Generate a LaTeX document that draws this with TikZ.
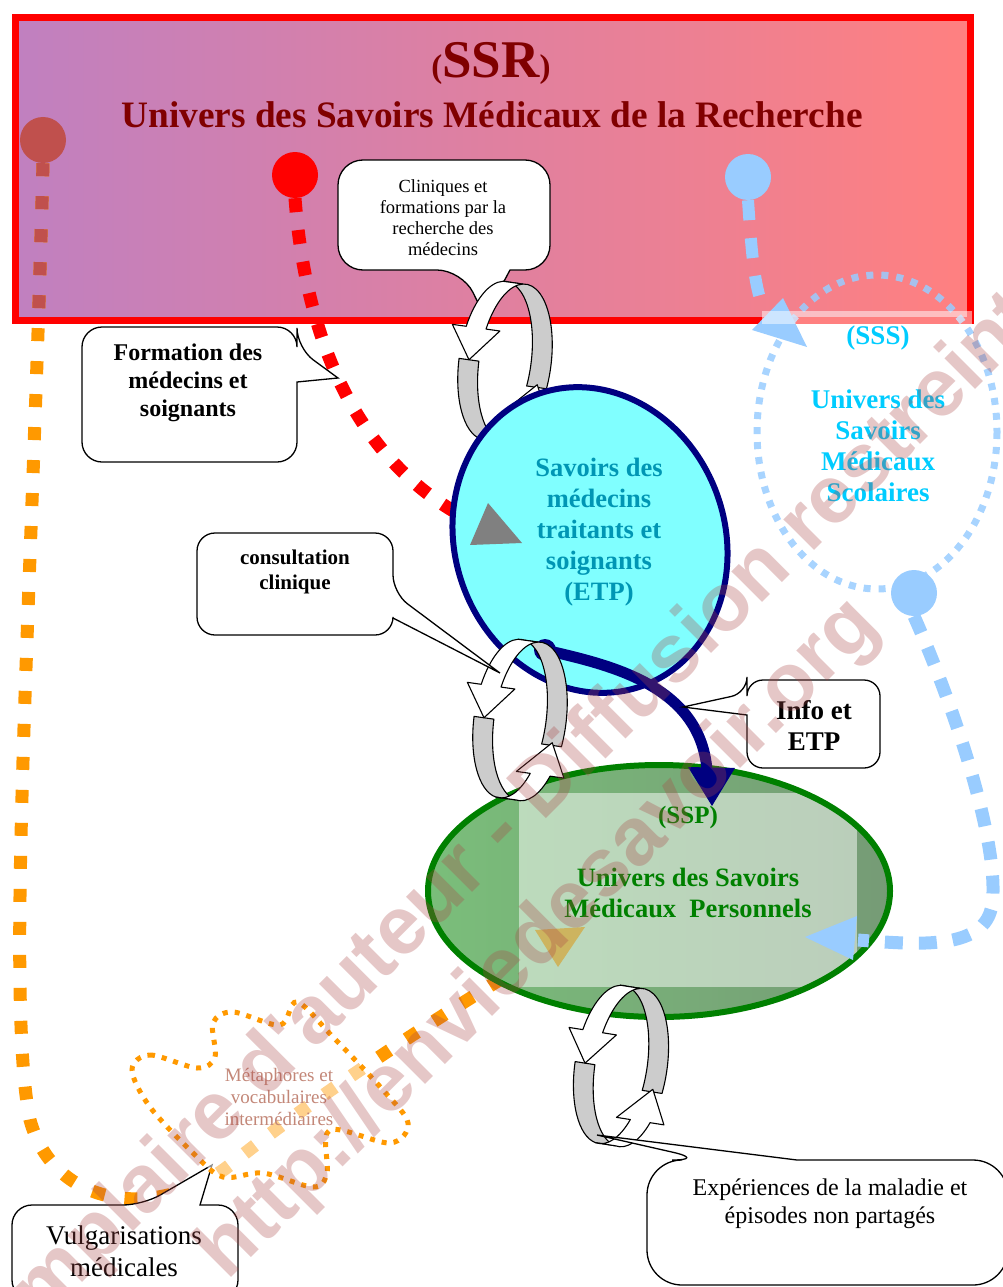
\documentclass[tikz,border=0pt]{standalone}
\usepackage{fontspec}
\setmainfont{Liberation Serif}
\newfontfamily\wmfont{Liberation Sans}

\definecolor{ssrleft}{RGB}{192,128,192}
\definecolor{ssrright}{RGB}{255,128,128}
\definecolor{ssrtext}{RGB}{128,0,0}
\definecolor{skyblue}{RGB}{153,204,255}
\definecolor{ssstext}{RGB}{0,204,255}
\definecolor{etpfill}{RGB}{128,255,255}
\definecolor{etptext}{RGB}{0,150,180}
\definecolor{navy}{RGB}{0,0,128}
\definecolor{sspgreen}{RGB}{0,128,0}
\definecolor{sspleft}{RGB}{122,190,122}
\definecolor{sspright}{RGB}{118,155,118}
\definecolor{vulgorange}{RGB}{255,153,0}
\definecolor{vulgbrown}{RGB}{192,80,77}
\definecolor{ringgrey}{RGB}{204,204,204}
\definecolor{metatext}{RGB}{195,135,120}
\definecolor{olivehead}{RGB}{205,180,95}
\definecolor{wmark}{RGB}{170,70,70}

\newcommand\fsize[2]{\fontsize{#1}{#2}\selectfont}

% ring of two curved arrows, centred at (#1,#2), tilted by #3
\newcommand\ringarrows[3]{%
  \begin{scope}[shift={(#1,#2)}, rotate=#3, line width=1.1pt, line join=round]
    \filldraw[fill=ringgrey] ({-10+36*cos(178)},{80*sin(178)}) arc[start angle=178, end angle=95, x radius=36, y radius=80]
      -- ++(20,0) arc[start angle=95, end angle=178, x radius=36, y radius=80] -- cycle;
    \filldraw[fill=ringgrey] ({-10+36*cos(15)},{80*sin(15)}) arc[start angle=15, end angle=-95, x radius=36, y radius=80]
      -- ++(20,0) arc[start angle=-95, end angle=15, x radius=36, y radius=80] -- cycle;
    \filldraw[fill=white] ({-10+36*cos(-95)},{80*sin(-95)}) arc[start angle=-95, end angle=-158, x radius=36, y radius=80]
      -- ++(-14,0) -- ({36*cos(-182)},{80*sin(-182)}) -- ({24+36*cos(-158)},{80*sin(-158)}) -- ++(-14,0)
      arc[start angle=-158, end angle=-95, x radius=36, y radius=80] -- cycle;
    \filldraw[fill=white] ({-10+36*cos(95)},{80*sin(95)}) arc[start angle=95, end angle=40, x radius=36, y radius=80]
      -- ++(-14,0) -- ({36*cos(13)},{80*sin(13)}) -- ({24+36*cos(40)},{80*sin(40)}) -- ++(-14,0)
      arc[start angle=40, end angle=95, x radius=36, y radius=80] -- cycle;
  \end{scope}}

\begin{document}
\begin{tikzpicture}[
    x=1pt, y=-1pt,
    bubble/.style = {draw, fill=white, line width=1.3pt, rounded corners=20pt},
    dot/.style = {circle, inner sep=0pt, minimum size=46pt},
    txt/.style = {inner sep=0pt, align=center}
  ]
  \useasboundingbox (0,0) rectangle (1003,1287);
  \clip (0,0) rectangle (1003,1287);

  % SSR
  \path[left color=ssrleft, right color=ssrright] (15,18) rectangle (970,320);
  \draw[red, line width=7pt] (15,18) rectangle (970,320);
  \node[txt, text=ssrtext, font=\bfseries] (ssrtag) at (491,63)
    {\fsize{33}{36}(\fsize{53}{56}SSR\fsize{33}{36})};
  \node[txt, text=ssrtext, font=\bfseries\fsize{37.3}{40}] (ssrtitle) at (492,115)
    {Univers des Savoirs Médicaux de la Recherche};

  \node[dot, fill=vulgbrown] (vulgdot) at (43,140) {};
  \node[dot, fill=red] (formdot) at (295,175) {};
  \node[dot, fill=skyblue] (sssdot) at (748,177) {};
  \node[dot, fill=skyblue] (sspdot) at (914,593) {};

  % vulgarisation path
  \draw[vulgorange, line width=13pt, dash pattern=on 13pt off 20pt]
    (vulgdot.south) .. controls (32,600) and (5,1000) .. (30,1120)
    .. controls (55,1210) and (160,1220) .. (230,1165)
    .. controls (330,1085) and (450,1010) .. (545,952);
  \begin{scope}
    \clip (15,18) rectangle (970,320);
    \draw[vulgbrown, line width=13pt, dash pattern=on 13pt off 20pt]
      (vulgdot.south) .. controls (32,600) and (5,1000) .. (30,1120);
  \end{scope}

  % formation path
  \draw[red, line width=13pt, dash pattern=on 14pt off 18pt]
    (formdot.south) .. controls (305,330) and (350,450) .. (455,512);

  % SSS
  \draw[skyblue, line width=12pt, dash pattern=on 20pt off 18pt]
    (sssdot.south) .. controls (752,260) and (755,290) .. (765,312);
  \fill[skyblue] (752,330) -- (783,298) -- (807,347) -- cycle;
  \draw[skyblue, opacity=0.85, line width=7pt, dash pattern=on 7pt off 8pt]
    (877,432) ellipse [x radius=120, y radius=157];
  \fill[white, opacity=0.5] (762,311) rectangle (972,324);
  \node[txt, text=ssstext, font=\bfseries\fsize{27}{31}] (ssstag) at (878,338) {(SSS)};
  \node[txt, text=ssstext, font=\bfseries\fsize{27}{31}] (ssstitle) at (878,446)
    {Univers des\\Savoirs\\Médicaux\\Scolaires};

  % cliniques
  \draw[bubble, rounded corners=25pt] (510,270) -- (550,270) -- (550,160) -- (338,160)
    -- (338,270) -- (462,270) [sharp corners] -- (485,317) -- cycle;
  \node[txt, font=\fsize{18.5}{21}] (clintext) at (443,218)
    {Cliniques et\\formations par la\\recherche des\\médecins};
  \ringarrows{505}{362}{-8}

  % SSP
  \path[left color=sspleft, right color=sspright] (659,891) ellipse [x radius=231, y radius=126];
  \fill[white, opacity=0.5] (519,793) rectangle (857,987);
  \draw[sspgreen, line width=6pt] (659,891) ellipse [x radius=231, y radius=126];
  \node[txt, text=sspgreen, font=\bfseries\fsize{25}{28}] (ssptag) at (688,817) {(SSP)};
  \node[txt, text=sspgreen, font=\bfseries\fsize{26.5}{31}] (ssptitle) at (688,893)
    {Univers des Savoirs\\Médicaux\ \ Personnels};
  \fill[olivehead] (535,930) -- (585,927) -- (558,967) -- cycle;

  \draw[skyblue, line width=13pt, dash pattern=on 18pt off 16pt]
    (sspdot.south) .. controls (960,720) and (1000,850) .. (992,905)
    .. controls (985,950) and (920,945) .. (858,940);
  \fill[skyblue] (857,916) -- (853,960) -- (805,937) -- cycle;

  % ETP
  \filldraw[fill=etpfill, draw=navy, line width=6pt, rotate around={20:(590,540)}]
    (590,540) ellipse [x radius=135, y radius=155];
  \node[txt, text=etptext, font=\bfseries\fsize{26.5}{31}] (etptext) at (599,532)
    {Savoirs des\\médecins\\traitants et\\soignants\\(ETP)};
  \fill[gray] (488,503) -- (522,543) -- (470,545) -- cycle;

  \draw[navy, line width=11pt] (545,650) .. controls (610,665) and (700,685) .. (707,770);
  \fill[navy] (545,650) circle[radius=11];
  \fill[navy] (688,767) -- (735,768) -- (712,806) -- cycle;

  \ringarrows{520}{720}{-8}
  \ringarrows{621}{1066}{-9}

  % callouts
  \draw[bubble] (297,382) -- (297,462) -- (82,462) -- (82,327) -- (297,327)
    -- (297,348) [sharp corners] -- (338,378) -- cycle;
  \node[txt, font=\bfseries\fsize{24}{28}] (formtext) at (188,383)
    {Formation des\\médecins et\\soignants};

  \draw[bubble, rounded corners=18pt] (393,618) -- (393,635) -- (197,635) -- (197,533) -- (393,533)
    -- (393,593) [sharp corners] -- (500,673) -- cycle;
  \node[txt, font=\bfseries\fsize{21}{25}] (constext) at (295,572) {consultation\\clinique};

  \draw[bubble, rounded corners=16pt] (747,715) -- (747,768) -- (880,768) -- (880,680) -- (747,680)
    -- (747,693) [sharp corners] -- (683,707) -- cycle;
  \node[txt, font=\bfseries\fsize{27}{31}] (infotext) at (814,725) {Info et\\ETP};

  \draw[bubble, rounded corners=35pt] (797,1160) -- (1008,1160) -- (1008,1285) -- (647,1285)
    -- (647,1160) -- (707,1160) [sharp corners] -- (597,1135) -- cycle;
  \node[txt, font=\fsize{24}{28}] (exptext) at (830,1204)
    {Expériences de la maladie et\\épisodes non partagés};

  \draw[bubble] (200,1205) -- (238,1205) -- (238,1300) -- (12,1300) -- (12,1205)
    -- (143,1205) [sharp corners] -- (212,1165) -- cycle;
  \node[txt, font=\fsize{27}{32}] (vulgtext) at (124,1251) {Vulgarisations\\médicales};

  % metaphores
  \filldraw[draw=vulgorange, fill=white, fill opacity=0.55, line width=5pt, dash pattern=on 5pt off 7pt]
    plot[smooth cycle, tension=0.55] coordinates {(132,1070) (150,1055) (197,1068) (215,1057)
      (213,1023) (233,1012) (280,1025) (297,1002) (333,1037) (383,1090) (408,1123) (390,1143)
      (330,1130) (327,1173) (313,1187) (263,1173) (223,1177) (193,1153) (150,1107)};
  \node[txt, text=metatext, font=\fsize{19}{22}] (metatext) at (279,1097)
    {Métaphores et\\vocabulaires\\intermédiaires};

  % watermark
  \node[rotate=45, text=wmark, opacity=0.3, font=\wmfont\bfseries\fsize{82}{84}] (wmauthor) at (492,843)
    {Exemplaire d'auteur - Diffusion restreinte};
  \node[rotate=45, text=wmark, opacity=0.3, font=\wmfont\bfseries\fsize{82}{84}] (wmsite) at (540,940)
    {http://enviedesavoir.org};
\end{tikzpicture}
\end{document}
